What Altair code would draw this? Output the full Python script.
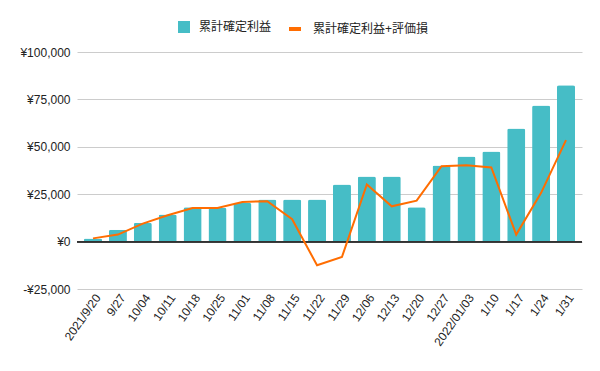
import altair as alt
import pandas as pd

dates = ["2021/9/20", "9/27", "10/04", "10/11", "10/18", "10/25", "11/01", "11/08",
         "11/15", "11/22", "11/29", "12/06", "12/13", "12/20", "12/27", "2022/01/03",
         "1/10", "1/17", "1/24", "1/31"]
realized = [1600, 6300, 10000, 14300, 18100, 17900, 20400, 22200, 22200, 22200,
            30100, 34300, 34300, 18100, 40100, 44900, 47500, 59700, 71800, 82400]
with_unrealized = [1700, 3700, 9500, 13900, 17700, 17700, 20900, 21300, 11800, -12500,
                   -8100, 30100, 18600, 21600, 39800, 40300, 39100, 3700, 25700, 53500]

s_bar = "累計確定利益"
s_line = "累計確定利益+評価損"

df = pd.DataFrame({"date": dates, "realized": realized, "total": with_unrealized,
                   "s1": [s_bar] * len(dates), "s2": [s_line] * len(dates)})

FONT = "'Liberation Sans', Arial, 'Noto Sans CJK JP', sans-serif"

x = alt.X("date:N", sort=dates, title=None,
          scale=alt.Scale(paddingInner=0.275, paddingOuter=0.28),
          axis=alt.Axis(labelAngle=-55, domain=False, ticks=False, labelPadding=6, labelOffset=5,
                        labelFont=FONT, labelFontSize=12, labelColor="#222222"))
yscale = alt.Scale(domain=[-25000, 100000], nice=False)
yaxis = alt.Axis(values=[-25000, 0, 25000, 50000, 75000, 100000], domain=False, ticks=False,
                 labelPadding=7, labelFont=FONT, labelFontSize=12, labelColor="#222222",
                 gridColor="#cccccc",
                 labelExpr="datum.value < 0 ? '-¥' + format(-datum.value, ',') : '¥' + format(datum.value, ',')")

bars = alt.Chart(df).mark_bar(cornerRadiusTopLeft=2, cornerRadiusTopRight=2).encode(
    x=x,
    y=alt.Y("realized:Q", scale=yscale, axis=yaxis, title=None),
    color=alt.Color("s1:N", scale=alt.Scale(domain=[s_bar], range=["#46BDC6"]),
                    legend=alt.Legend(title=None, orient="none", legendX=101, legendY=-31,
                                      symbolType="square", symbolSize=144, symbolStrokeWidth=0,
                                      labelFont=FONT, labelFontSize=12, labelColor="#222222",
                                      labelOffset=9)),
)

zero = alt.Chart(df).mark_rule(color="#333333", strokeWidth=1).encode(y=alt.datum(0))

line = alt.Chart(df).mark_line(strokeWidth=2).encode(
    x=x,
    y=alt.Y("total:Q", scale=yscale),
    stroke=alt.Stroke("s2:N", scale=alt.Scale(domain=[s_line], range=["#FF6D01"]),
                      legend=alt.Legend(title=None, orient="none", legendX=210, legendY=-31,
                                        symbolType="stroke", symbolSize=144, symbolStrokeWidth=4,
                                        labelFont=FONT, labelFontSize=12, labelColor="#222222",
                                        labelOffset=10)),
)

chart = alt.layer(bars, zero, line).properties(
    width=505, height=237,
    autosize=alt.AutoSizeParams(type="none"),
    padding={"left": 69, "top": 44, "right": 10, "bottom": 74},
).configure_view(stroke=None)

chart.save("out.html", embed_options={"renderer": "svg", "actions": False})
